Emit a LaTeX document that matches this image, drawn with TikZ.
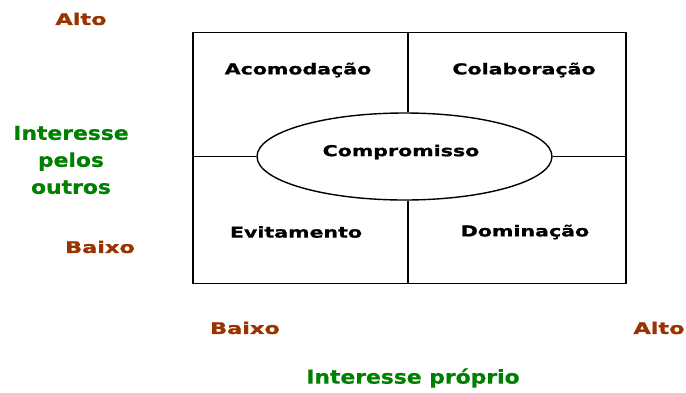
\documentclass[tikz,border=0pt]{standalone}
\usepackage{fontspec}
\setmainfont{DejaVu Sans}
\newfontfamily\quadfont[FakeStretch=1.37,FakeBold=1]{DejaVu Sans}
\newfontfamily\axfont[FakeStretch=1.4,FakeBold=1]{DejaVu Sans}
\newfontfamily\titfont[FakeStretch=1.15,FakeBold=0.8]{DejaVu Sans}
\usetikzlibrary{shapes.geometric}
\definecolor{lblbrown}{HTML}{993300}
\definecolor{lblgreen}{HTML}{008000}
\begin{document}
\begin{tikzpicture}[x=1pt,y=-1pt,
  quad/.style={font=\quadfont\bfseries\fontsize{15}{17}\selectfont, text=black},
  axis/.style={font=\axfont\bfseries\fontsize{16}{20}\selectfont, text=lblbrown},
  axtitle/.style={font=\titfont\bfseries\fontsize{19}{27}\selectfont, text=lblgreen, align=center},
  line/.style={draw=black, line width=1.4pt}]
\useasboundingbox (0,0) rectangle (686,392);
\node[line, rectangle, minimum width=433pt, minimum height=251pt, inner sep=0pt] (box) at (409.5,158) {};
\coordinate (vt) at (408,33);
\coordinate (vb) at (408,283);
\coordinate (hl) at (193,156.5);
\coordinate (hr) at (626,156.5);
\node[line, ellipse, minimum width=295pt, minimum height=87pt, inner sep=0pt, fill=white] (comp) at (404.5,156.5) {};
\draw[line] (vt) -- (vt |- comp.north);
\draw[line] (vb |- comp.south) -- (vb);
\draw[line] (hl) -- (comp.west);
\draw[line] (comp.east) -- (hr);
\node[quad] (compt) at (401,152) {Compromisso};
\node[quad] (acom) at (298,70) {Acomodação};
\node[quad] (cola) at (524,70) {Colaboração};
\node[quad] (evit) at (296,232) {Evitamento};
\node[quad] (domi) at (525,232) {Dominação};
\node[axis] (altoy) at (81,19) {Alto};
\node[axis] (baixoy) at (100,247) {Baixo};
\node[axis] (baixox) at (245,328) {Baixo};
\node[axis] (altox) at (659,328) {Alto};
\node[axtitle] (ipo) at (71,160) {Interesse\\pelos\\outros};
\node[axtitle] (ip) at (413,378) {Interesse próprio};
\end{tikzpicture}
\end{document}
